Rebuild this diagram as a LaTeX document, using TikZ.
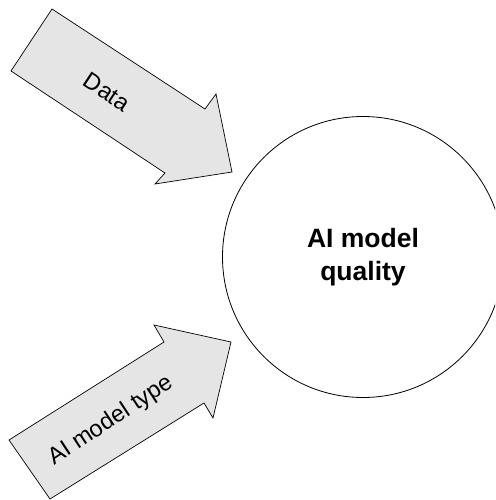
\documentclass[tikz,border=0pt]{standalone}
\usepackage{fontspec}
\setmainfont{Liberation Sans}
\begin{document}
\begin{tikzpicture}[x=1pt,y=-1pt,
  arrowshape/.style={draw=black, fill=black!10, line width=0.7pt, line join=miter},
  lbl/.style={font=\fontsize{23.5}{27}\selectfont, inner sep=0pt}]
\useasboundingbox (0,0) rectangle (495,500);
\begin{scope}
\clip (0,0) rectangle (495,500);
\node[draw=black, line width=0.8pt, circle, minimum size=281pt, inner sep=0pt,
  align=center, font=\fontsize{26.5}{33}\selectfont\bfseries] (q) at (363,257) {AI model\\quality};
\end{scope}
\draw[arrowshape] (52,9) -- (205,109) -- (216,94) -- (232,172) -- (155,184) -- (165,173) -- (11,71) -- cycle;
\draw[arrowshape] (9,440) -- (164,342) -- (154,325) -- (231,342) -- (213,418) -- (204,403) -- (50,499) -- cycle;
\node[lbl, rotate=-33.4] (d) at (107,92) {Data};
\node[lbl, rotate=33.4] (t) at (111,421) {AI model type};
\end{tikzpicture}
\end{document}
